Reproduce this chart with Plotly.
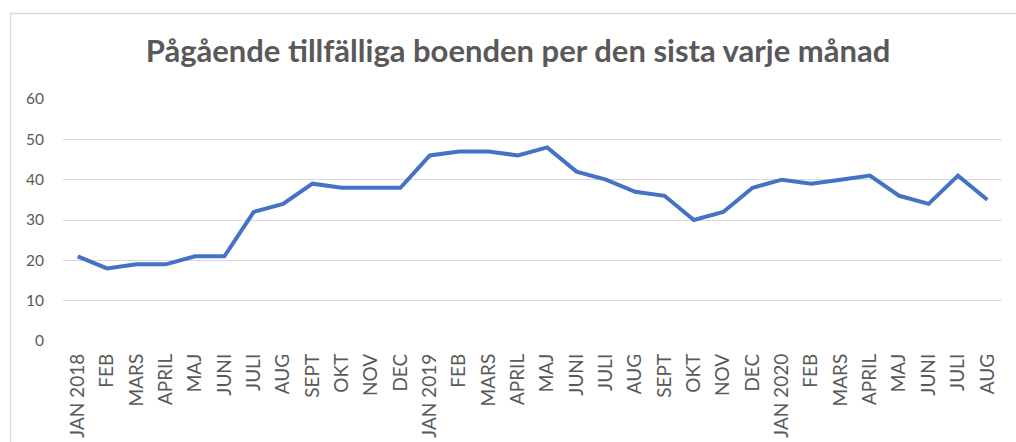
import plotly.graph_objects as go

title = "Pågående tillfälliga boenden per den sista varje månad"
month_labels = ["JAN 2018", "FEB", "MARS", "APRIL", "MAJ", "JUNI", "JULI", "AUG", "SEPT", "OKT", "NOV", "DEC",
                "JAN 2019", "FEB", "MARS", "APRIL", "MAJ", "JUNI", "JULI", "AUG", "SEPT", "OKT", "NOV", "DEC",
                "JAN 2020", "FEB", "MARS", "APRIL", "MAJ", "JUNI", "JULI", "AUG"]
values = [21, 18, 19, 19, 21, 21, 32, 34, 39, 38, 38, 38,
          46, 47, 47, 46, 48, 42, 40, 37, 36, 30, 32, 38,
          40, 39, 40, 41, 36, 34, 41, 35]
y_ticks = [0, 10, 20, 30, 40, 50, 60]

x_idx = list(range(len(month_labels)))

W, H = 1016, 442
L, R, T, B = 63, 14, 99, 101
pw, ph = W - L - R, H - T - B

def px_to_paper_x(px):
    return (px - L) / pw

def py_to_paper_y(py):
    return (H - B - py) / ph

fig = go.Figure()
fig.add_trace(go.Scatter(
    x=x_idx, y=values, mode="lines",
    line=dict(color="#4472C4", width=4),
    hoverinfo="y",
))

font_family = "Lato, 'Open Sans', sans-serif"
fig.update_layout(
    width=W, height=H,
    margin=dict(l=L, r=R, t=T, b=B, autoexpand=False),
    paper_bgcolor="white", plot_bgcolor="white",
    showlegend=False,
    title=dict(text="<b>" + title + "</b>", x=518 / W, xanchor="center", xref="container",
               y=1 - 51 / H, yanchor="middle", yref="container",
               font=dict(family=font_family, size=31, color="#595959")),
    xaxis=dict(
        range=[-0.5, len(month_labels) - 0.5],
        tickmode="array", tickvals=x_idx, ticktext=month_labels,
        tickangle=-90, showgrid=False, zeroline=False, showline=False,
        ticks="", ticklabelstandoff=8, automargin=False,
        tickfont=dict(family=font_family, size=19, color="#595959"),
        fixedrange=True,
    ),
    yaxis=dict(
        range=[0, 60], tickmode="array", tickvals=y_ticks,
        showgrid=True, gridcolor="#D9D9D9", gridwidth=1,
        zeroline=False, showline=False, ticks="", ticklabelstandoff=18,
        automargin=False,
        tickfont=dict(family=font_family, size=15.5, color="#595959"),
        fixedrange=True,
    ),
    shapes=[dict(
        type="rect", xref="paper", yref="paper",
        x0=px_to_paper_x(10.5), x1=px_to_paper_x(1030),
        y0=py_to_paper_y(460), y1=py_to_paper_y(13.5),
        line=dict(color="#D9D9D9", width=1.5), fillcolor="rgba(0,0,0,0)", layer="below",
    )],
)

fig.write_html("out.html", config={"displayModeBar": False})

# remove the default 8px page margin so the figure sits at the window origin
with open("out.html", "r", encoding="utf-8") as f:
    html = f.read()
html = html.replace("<body>", "<body style=\"margin:0;overflow:hidden\">", 1)
with open("out.html", "w", encoding="utf-8") as f:
    f.write(html)
